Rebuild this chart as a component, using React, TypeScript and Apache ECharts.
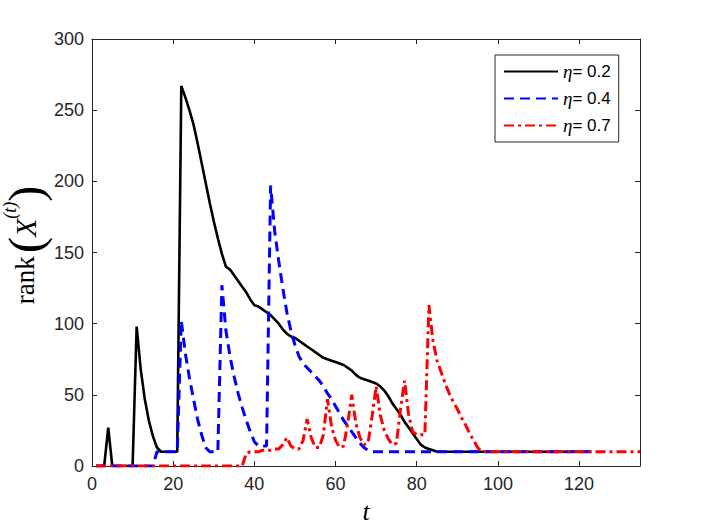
import React, { useEffect, useRef } from "react";
import * as echarts from "echarts";

// time index of the first sample of each series
const T_START = 1;

const seriesNames = ["η= 0.2", "η= 0.4", "η= 0.7"];
const seriesColors = ["#000000", "#0000ff", "#ff0000"];

// η = 0.2, t = 1..123
const black = [
  0, 0, 0, 27, 0, 0, 0, 0, 0, 0,
  98, 68, 47, 32, 21, 13, 10, 10, 10, 10,
  10, 267, 259, 250, 240, 227, 213, 199, 185, 172,
  160, 149, 140, 138, 134, 130, 126, 122, 117, 113,
  112, 110, 108, 106, 103, 100, 96, 93, 91, 90,
  88, 86, 84, 82, 80, 78, 76, 75, 74, 73,
  72, 71, 69, 67, 64, 62, 61, 60, 59, 58,
  56, 53, 49, 44, 40, 36, 31, 27, 23, 19,
  15, 13, 12, 11, 10, 10, 10, 10, 10, 10,
  10, 10, 10, 10, 10, 10, 10, 10, 10, 10,
  10, 10, 10, 10, 10, 10, 10, 10, 10, 10,
  10, 10, 10, 10, 10, 10, 10, 10, 10, 10,
  10, 10, 10,
];

// η = 0.4, t = 1..123
const blue = [
  0, 0, 0, 0, 0, 0, 0, 0, 0, 0,
  0, 0, 0, 0, 0, 10, 10, 10, 10, 10,
  10, 102, 79, 62, 47, 33, 22, 13, 10, 10,
  10, 127, 95, 77, 63, 51, 41, 32, 24, 17,
  14, 14, 14, 197, 165, 144, 125, 108, 95, 85,
  77, 72, 69, 66, 63, 60, 56, 51, 47, 42,
  37, 32, 28, 24, 20, 16, 13, 11, 10, 10,
  10, 10, 10, 10, 10, 10, 10, 10, 10, 10,
  10, 10, 10, 10, 10, 10, 10, 10, 10, 10,
  10, 10, 10, 10, 10, 10, 10, 10, 10, 10,
  10, 10, 10, 10, 10, 10, 10, 10, 10, 10,
  10, 10, 10, 10, 10, 10, 10, 10, 10, 10,
  10, 10, 10,
];

// η = 0.7, t = 1..135
const red = [
  0, 0, 0, 0, 0, 0, 0, 0, 0, 0,
  0, 0, 0, 0, 0, 0, 0, 0, 0, 0,
  0, 0, 0, 0, 0, 0, 0, 0, 0, 0,
  0, 0, 0, 0, 0, 0, 0, 9, 10, 10,
  10, 11, 11, 11, 12, 12, 15, 20, 14, 12,
  12, 18, 33, 20, 13, 13, 22, 47, 28, 18,
  13, 14, 30, 50, 30, 20, 15, 16, 35, 56,
  36, 25, 19, 15, 16, 40, 60, 36, 24, 22,
  22, 22, 113, 88, 74, 66, 58, 51, 45, 40,
  34, 29, 23, 18, 13, 10, 10, 10, 10, 10,
  10, 10, 10, 10, 10, 10, 10, 10, 10, 10,
  10, 10, 10, 10, 10, 10, 10, 10, 10, 10,
  10, 10, 10, 10, 10, 10, 10, 10, 10, 10,
  10, 10, 10, 10, 10,
];

const X_MIN = 0;
const X_MAX = 135;
const X_STEP = 20;
const Y_MIN = 0;
const Y_MAX = 300;
const Y_STEP = 50;

const AXIS_COLOR = "#262626";
const SANS = "'Liberation Sans', Arial, Helvetica, sans-serif";
const SERIF = "'Liberation Serif', 'Times New Roman', serif";

const toPairs = (arr: number[]) => arr.map((v, i) => [T_START + i, v]);

export default function App() {
  const ref = useRef<HTMLDivElement>(null);

  useEffect(() => {
    document.body.style.margin = "0";
    if (!ref.current) return;
    const chart = echarts.init(ref.current, undefined, { renderer: "svg" });

    const tickStyle = { inside: true, length: 5, lineStyle: { color: AXIS_COLOR, width: 1 } };
    const lineAxis = { show: true, onZero: false, lineStyle: { color: AXIS_COLOR, width: 1 } };

    chart.setOption({
      animation: false,
      backgroundColor: "#ffffff",
      grid: { left: 92, top: 39, width: 548, height: 427, containLabel: false },
      xAxis: [
        {
          type: "value",
          min: X_MIN,
          max: X_MAX,
          interval: X_STEP,
          position: "bottom",
          axisLine: lineAxis,
          axisTick: tickStyle,
          splitLine: { show: false },
          axisLabel: {
            color: AXIS_COLOR,
            fontFamily: SANS,
            fontSize: 18,
            margin: 9,
            showMaxLabel: false,
          },
          name: "t",
          nameLocation: "middle",
          nameGap: 32,
          nameTextStyle: {
            fontFamily: SERIF,
            fontStyle: "italic",
            fontSize: 26,
            color: "#000",
          },
        },
        {
          type: "value",
          min: X_MIN,
          max: X_MAX,
          interval: X_STEP,
          position: "top",
          axisLine: lineAxis,
          axisTick: tickStyle,
          splitLine: { show: false },
          axisLabel: { show: false },
        },
      ],
      yAxis: [
        {
          type: "value",
          min: Y_MIN,
          max: Y_MAX,
          interval: Y_STEP,
          position: "left",
          axisLine: lineAxis,
          axisTick: tickStyle,
          splitLine: { show: false },
          axisLabel: {
            color: AXIS_COLOR,
            fontFamily: SANS,
            fontSize: 18,
            margin: 8,
          },
        },
        {
          type: "value",
          min: Y_MIN,
          max: Y_MAX,
          interval: Y_STEP,
          position: "right",
          axisLine: lineAxis,
          axisTick: tickStyle,
          splitLine: { show: false },
          axisLabel: { show: false },
        },
      ],
      legend: {
        orient: "vertical",
        left: 495,
        top: 55,
        data: seriesNames,
        backgroundColor: "#ffffff",
        borderColor: AXIS_COLOR,
        borderWidth: 1,
        borderRadius: 0,
        padding: [7, 8, 7, 8],
        itemGap: 8,
        itemWidth: 54,
        itemHeight: 12,
        selectedMode: false,
        itemStyle: { opacity: 0 },
        formatter: (name: string) => `{e|η}{n|${name.slice(1)}}`,
        textStyle: {
          color: "#000",
          rich: {
            e: { fontFamily: SERIF, fontStyle: "italic", fontSize: 19, color: "#000" },
            n: { fontFamily: SANS, fontSize: 17, color: "#000" },
          },
        },
      },
      graphic: [
        {
          type: "text",
          x: 25,
          y: 245,
          rotation: Math.PI / 2,
          style: {
            text: "{r|rank} {p|(}{x|X}{s|(t)}{p|)}",
            align: "center",
            verticalAlign: "middle",
            fill: "#000",
            rich: {
              r: { fontFamily: SERIF, fontSize: 27, fill: "#000" },
              p: { fontFamily: SERIF, fontSize: 48, fill: "#000" },
              x: { fontFamily: SERIF, fontStyle: "italic", fontSize: 30, fill: "#000" },
              s: {
                fontFamily: SERIF,
                fontStyle: "italic",
                fontSize: 18,
                fill: "#000",
                verticalAlign: "top",
              },
            },
          },
        },
      ],
      series: [
        {
          name: seriesNames[0],
          type: "line",
          data: toPairs(black),
          symbol: "none",
          lineStyle: { color: seriesColors[0], width: 2.6 },
          itemStyle: { color: seriesColors[0] },
          z: 2,
        },
        {
          name: seriesNames[1],
          type: "line",
          data: toPairs(blue),
          symbol: "none",
          lineStyle: { color: seriesColors[1], width: 3, type: [10, 6] },
          itemStyle: { color: seriesColors[1] },
          z: 3,
        },
        {
          name: seriesNames[2],
          type: "line",
          data: toPairs(red),
          symbol: "none",
          lineStyle: { color: seriesColors[2], width: 3, type: [10, 4, 3, 4] },
          itemStyle: { color: seriesColors[2] },
          z: 4,
        },
      ],
    });

    return () => {
      chart.dispose();
    };
  }, []);

  return <div ref={ref} style={{ width: 706, height: 530 }} />;
}
